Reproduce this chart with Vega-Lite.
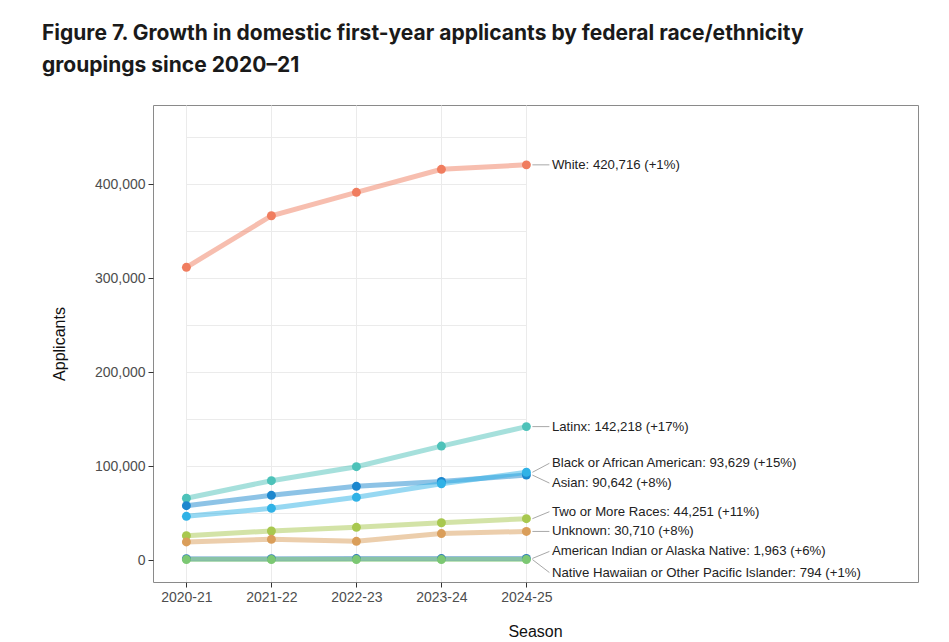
{
  "$schema": "https://vega.github.io/schema/vega-lite/v6.json",
  "width": 765,
  "height": 477,
  "autosize": {"type": "none"},
  "padding": {"left": 153, "top": 105, "right": 31, "bottom": 60},
  "background": "#ffffff",
  "title": {
    "text": ["Figure 7. Growth in domestic first-year applicants by federal race/ethnicity", "groupings since 2020\u201321"],
    "anchor": "start",
    "frame": "group",
    "dx": -111,
    "offset": 29,
    "font": "Inter",
    "fontSize": 21,
    "fontWeight": "bold",
    "color": "#1a1a1a",
    "lineHeight": 32
  },
  "config": {
    "view": {"stroke": "#8a8a8a", "strokeWidth": 1},
    "axis": {
      "labelFont": "Liberation Sans",
      "titleFont": "Liberation Sans",
      "labelColor": "#4d4d4d",
      "titleColor": "#111111",
      "titleFontWeight": "normal",
      "gridColor": "#ebebeb",
      "gridWidth": 1,
      "tickColor": "#333333",
      "tickSize": 5,
      "domain": false
    }
  },
  "datasets": {
    "series": [
      {"race": "White", "season": "2020-21", "applicants": 311700},
      {"race": "White", "season": "2021-22", "applicants": 366600},
      {"race": "White", "season": "2022-23", "applicants": 391500},
      {"race": "White", "season": "2023-24", "applicants": 416000},
      {"race": "White", "season": "2024-25", "applicants": 420716},
      {"race": "Latinx", "season": "2020-21", "applicants": 66000},
      {"race": "Latinx", "season": "2021-22", "applicants": 84700},
      {"race": "Latinx", "season": "2022-23", "applicants": 99600},
      {"race": "Latinx", "season": "2023-24", "applicants": 121500},
      {"race": "Latinx", "season": "2024-25", "applicants": 142218},
      {"race": "Asian", "season": "2020-21", "applicants": 58100},
      {"race": "Asian", "season": "2021-22", "applicants": 69100},
      {"race": "Asian", "season": "2022-23", "applicants": 78700},
      {"race": "Asian", "season": "2023-24", "applicants": 83900},
      {"race": "Asian", "season": "2024-25", "applicants": 90642},
      {"race": "Black or African American", "season": "2020-21", "applicants": 46800},
      {"race": "Black or African American", "season": "2021-22", "applicants": 55300},
      {"race": "Black or African American", "season": "2022-23", "applicants": 67000},
      {"race": "Black or African American", "season": "2023-24", "applicants": 81400},
      {"race": "Black or African American", "season": "2024-25", "applicants": 93629},
      {"race": "Two or More Races", "season": "2020-21", "applicants": 26200},
      {"race": "Two or More Races", "season": "2021-22", "applicants": 31200},
      {"race": "Two or More Races", "season": "2022-23", "applicants": 35100},
      {"race": "Two or More Races", "season": "2023-24", "applicants": 39900},
      {"race": "Two or More Races", "season": "2024-25", "applicants": 44251},
      {"race": "Unknown", "season": "2020-21", "applicants": 19500},
      {"race": "Unknown", "season": "2021-22", "applicants": 22300},
      {"race": "Unknown", "season": "2022-23", "applicants": 20200},
      {"race": "Unknown", "season": "2023-24", "applicants": 28400},
      {"race": "Unknown", "season": "2024-25", "applicants": 30710},
      {"race": "American Indian or Alaska Native", "season": "2020-21", "applicants": 1700},
      {"race": "American Indian or Alaska Native", "season": "2021-22", "applicants": 1750},
      {"race": "American Indian or Alaska Native", "season": "2022-23", "applicants": 1800},
      {"race": "American Indian or Alaska Native", "season": "2023-24", "applicants": 1852},
      {"race": "American Indian or Alaska Native", "season": "2024-25", "applicants": 1963},
      {"race": "Native Hawaiian or Other Pacific Islander", "season": "2020-21", "applicants": 760},
      {"race": "Native Hawaiian or Other Pacific Islander", "season": "2021-22", "applicants": 770},
      {"race": "Native Hawaiian or Other Pacific Islander", "season": "2022-23", "applicants": 780},
      {"race": "Native Hawaiian or Other Pacific Islander", "season": "2023-24", "applicants": 786},
      {"race": "Native Hawaiian or Other Pacific Islander", "season": "2024-25", "applicants": 794}
    ],
    "labels": [
      {"race": "White", "season": "2024-25", "applicants": 420716, "label": "White: 420,716 (+1%)"},
      {"race": "Latinx", "season": "2024-25", "applicants": 142218, "label": "Latinx: 142,218 (+17%)"},
      {"race": "Black or African American", "season": "2024-25", "applicants": 93629, "label": "Black or African American: 93,629 (+15%)"},
      {"race": "Asian", "season": "2024-25", "applicants": 90642, "label": "Asian: 90,642 (+8%)"},
      {"race": "Two or More Races", "season": "2024-25", "applicants": 44251, "label": "Two or More Races: 44,251 (+11%)"},
      {"race": "Unknown", "season": "2024-25", "applicants": 30710, "label": "Unknown: 30,710 (+8%)"},
      {"race": "American Indian or Alaska Native", "season": "2024-25", "applicants": 1963, "label": "American Indian or Alaska Native: 1,963 (+6%)"},
      {"race": "Native Hawaiian or Other Pacific Islander", "season": "2024-25", "applicants": 794, "label": "Native Hawaiian or Other Pacific Islander: 794 (+1%)"}
    ]
  },
  "encoding": {
    "x": {
      "field": "season",
      "type": "ordinal",
      "scale": {"type": "point", "domain": ["2020-21", "2021-22", "2022-23", "2023-24", "2024-25"], "range": [33.4, 373.4], "padding": 0},
      "axis": {"title": "Season", "labelAngle": 0, "labelFontSize": 14, "titleFontSize": 16, "labelPadding": 3, "titlePadding": 19, "titleX": 382, "grid": true}
    },
    "y": {
      "field": "applicants",
      "type": "quantitative",
      "scale": {"domain": [-23100, 484400], "nice": false, "zero": false},
      "axis": {
        "title": "Applicants",
        "values": [0, 50000, 100000, 150000, 200000, 250000, 300000, 350000, 400000, 450000],
        "labelExpr": "datum.value % 100000 == 0 ? format(datum.value, ',') : ''",
        "tickOpacity": {"condition": {"test": "datum.value % 100000 != 0", "value": 0}, "value": 1},
        "labelFontSize": 14,
        "titleFontSize": 16,
        "labelPadding": 3,
        "titlePadding": 27
      }
    },
    "color": {
      "field": "race",
      "type": "nominal",
      "legend": null,
      "scale": {
        "domain": ["White", "Latinx", "Black or African American", "Asian", "Two or More Races", "Unknown", "American Indian or Alaska Native", "Native Hawaiian or Other Pacific Islander"],
        "range": ["#F07D5F", "#4DC2B9", "#30B2E6", "#1C87CE", "#A8C84F", "#DA9E5A", "#2F7FB5", "#7CC873"]
      }
    }
  },
  "layer": [
    {
      "data": {"name": "series"},
      "mark": {"type": "line", "strokeWidth": 5, "opacity": 0.5},
      "encoding": {"detail": {"field": "race"}}
    },
    {
      "data": {"name": "series"},
      "mark": {"type": "circle", "size": 80, "opacity": 1}
    },
    {
      "data": {"name": "labels"},
      "mark": {
        "type": "rule",
        "color": "#a8a8a8",
        "strokeWidth": 1,
        "xOffset": 6,
        "x2Offset": 23,
        "y2Offset": {"expr": "datum.race == 'Black or African American' ? -9 : datum.race == 'Asian' ? 8 : datum.race == 'Two or More Races' ? -7 : datum.race == 'American Indian or Alaska Native' ? -7 : datum.race == 'Native Hawaiian or Other Pacific Islander' ? 13 : 0"}
      },
      "encoding": {
        "x2": {"field": "season"},
        "y2": {"field": "applicants"},
        "color": {"value": "#a8a8a8"}
      }
    },
    {
      "data": {"name": "labels"},
      "mark": {
        "type": "text",
        "align": "left",
        "baseline": "middle",
        "dx": 25.5,
        "dy": {"expr": "datum.race == 'Black or African American' ? -9 : datum.race == 'Asian' ? 8 : datum.race == 'Two or More Races' ? -7 : datum.race == 'American Indian or Alaska Native' ? -7 : datum.race == 'Native Hawaiian or Other Pacific Islander' ? 13 : 0"},
        "font": "Liberation Sans",
        "fontSize": 13.2,
        "color": "#222222"
      },
      "encoding": {
        "text": {"field": "label"},
        "color": {"value": "#222222"}
      }
    }
  ]
}
